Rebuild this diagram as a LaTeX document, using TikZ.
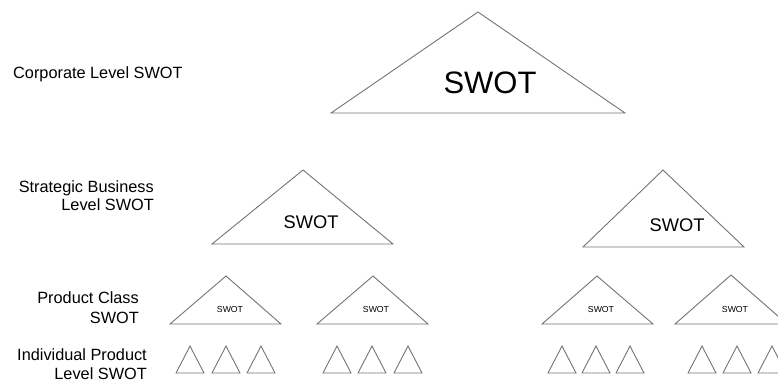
\documentclass[tikz,border=0pt]{standalone}
\usepackage{fontspec}
\setmainfont{Liberation Sans}
\begin{document}
\begin{tikzpicture}[x=1pt,y=-1pt,
  tri/.style={draw=black!55, line width=0.9pt, line join=miter},
  lab/.style={font=\fontsize{16.3}{19}\selectfont, inner sep=0pt, anchor=base east},
  big/.style={font=\fontsize{31}{31}\selectfont, inner sep=0pt, anchor=base},
  mid/.style={font=\fontsize{18.3}{20}\selectfont, inner sep=0pt, anchor=base},
  small/.style={font=\fontsize{8.7}{10}\selectfont, inner sep=0pt, anchor=base}]
\useasboundingbox (0,0) rectangle (778,381);
\clip (0,0) rectangle (778,381);

% level labels
\node[lab, anchor=base west] (lc) at (13,78) {Corporate Level SWOT};
\node[lab] (ls1) at (154,192) {Strategic Business};
\node[lab] (ls2) at (154,210) {Level SWOT};
\node[lab] (lp1) at (139,303) {Product Class};
\node[lab] (lp2) at (139,323) {SWOT};
\node[lab] (li1) at (147,360) {Individual Product};
\node[lab] (li2) at (147,379) {Level SWOT};

% corporate triangle
\draw[tri] (478,12) -- (625,113) -- (331,113) -- cycle;
\node[big] (c) at (490,93) {SWOT};

% strategic business triangles
\draw[tri] (303,170) -- (393,244) -- (212,244) -- cycle;
\node[mid] (sb1) at (311,228) {SWOT};
\draw[tri] (663,170) -- (744,247) -- (583,247) -- cycle;
\node[mid] (sb2) at (677,231) {SWOT};

% product class triangles
\draw[tri] (226,276) -- (281,324) -- (170,324) -- cycle;
\node[small] (pc1) at (230,312) {SWOT};
\draw[tri] (373,276) -- (428,324) -- (317,324) -- cycle;
\node[small] (pc2) at (376,312) {SWOT};
\draw[tri] (597,276) -- (653,324) -- (542,324) -- cycle;
\node[small] (pc3) at (601,312) {SWOT};
\draw[tri] (731,275) -- (787,324) -- (675,324) -- cycle;
\node[small] (pc4) at (735,312) {SWOT};

% individual product triangles
\foreach \cx in {190,226,261, 337,372,408, 562,596,630, 702,737,772}{
  \draw[tri] (\cx,346) -- (\cx+14,373) -- (\cx-14,373) -- cycle;
}
\end{tikzpicture}
\end{document}
